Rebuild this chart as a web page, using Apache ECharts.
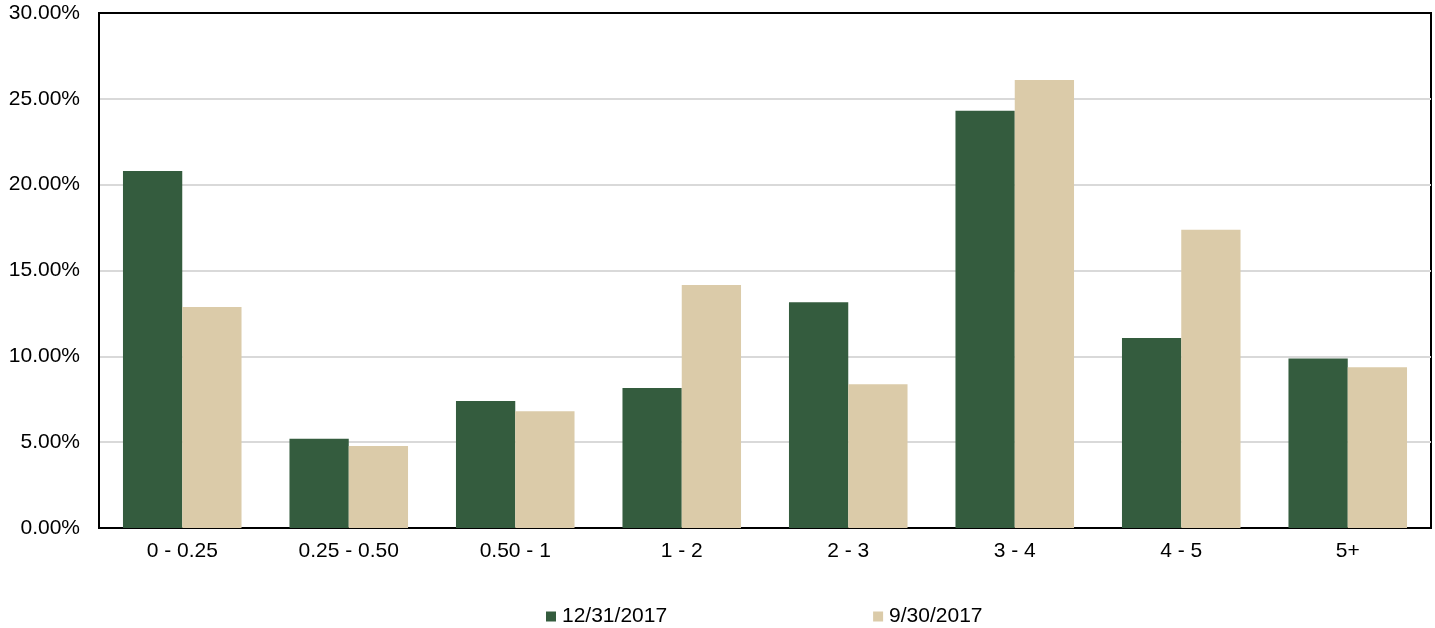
<!DOCTYPE html>
<html>
<head>
<meta charset="utf-8">
<script src="https://cdn.jsdelivr.net/npm/echarts@6/dist/echarts.min.js"></script>
<style>
  html, body { margin: 0; padding: 0; background: #fff; }
  #chart { width: 1435px; height: 628px; }
</style>
</head>
<body>
<div id="chart"></div>
<script>
// Maturity buckets (years) and share of portfolio per period
const categories = ['0 - 0.25', '0.25 - 0.50', '0.50 - 1', '1 - 2', '2 - 3', '3 - 4', '4 - 5', '5+'];
const seriesNames = ['12/31/2017', '9/30/2017'];
const dec2017 = [20.8, 5.2, 7.4, 8.15, 13.15, 24.3, 11.07, 9.88];
const sep2017 = [12.88, 4.78, 6.8, 14.15, 8.38, 26.1, 17.37, 9.37];
const yTicks = { min: 0, max: 30, interval: 5 };

const green = '#345C3E';
const beige = '#DBCBA9';
const font = "'Liberation Sans', Arial, sans-serif";

const chart = echarts.init(document.getElementById('chart'));
chart.setOption({
  animation: false,
  grid: {
    left: 99, right: 4, top: 13, bottom: 100,
    show: true, borderColor: '#000', borderWidth: 2, backgroundColor: 'transparent'
  },
  legend: {
    left: 546, top: 606, padding: 0,
    itemWidth: 10, itemHeight: 10, itemGap: 206,
    icon: 'rect',
    textStyle: { fontFamily: font, fontSize: 21, color: '#000', padding: [0, 0, 0, 1] },
    data: seriesNames
  },
  xAxis: [{
    type: 'category',
    data: categories,
    axisLine: { show: true, lineStyle: { color: '#000', width: 2 } },
    axisTick: { show: false },
    axisLabel: { fontFamily: font, fontSize: 21, color: '#000', margin: 13 }
  }, {
    // top edge of the frame
    type: 'category',
    position: 'top',
    data: categories,
    axisLine: { show: true, lineStyle: { color: '#000', width: 2 } },
    axisTick: { show: false },
    axisLabel: { show: false }
  }],
  yAxis: {
    type: 'value',
    min: yTicks.min, max: yTicks.max, interval: yTicks.interval,
    axisLine: { show: true, lineStyle: { color: '#000', width: 2 } },
    axisTick: { show: false },
    splitLine: { showMaxLine: false, lineStyle: { color: '#D9D9D9', width: 2 } },
    axisLabel: {
      fontFamily: font, fontSize: 21, color: '#000', margin: 19,
      formatter: v => v.toFixed(2) + '%'
    }
  },
  series: [
    { name: seriesNames[0], type: 'bar', data: dec2017, itemStyle: { color: green },
      barGap: '0%', barCategoryGap: '28.8%' },
    { name: seriesNames[1], type: 'bar', data: sep2017, itemStyle: { color: beige },
      barGap: '0%', barCategoryGap: '28.8%' }
  ]
});
</script>
</body>
</html>
